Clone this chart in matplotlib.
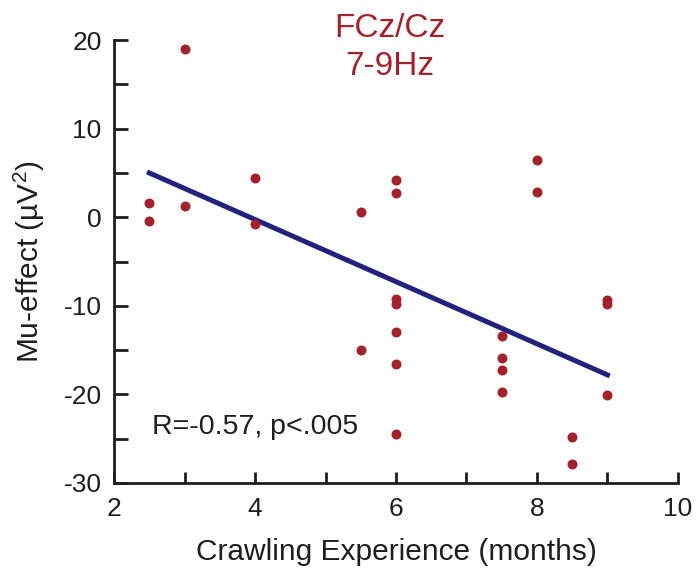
import matplotlib
matplotlib.use("Agg")
import matplotlib.pyplot as plt
from matplotlib.ticker import MultipleLocator

# crawling experience (months) and mu-effect (uV^2)
months = [2.5, 2.5, 3, 3, 4, 4, 5.5, 5.5,
          6, 6, 6, 6, 6, 6, 6,
          7.5, 7.5, 7.5, 7.5, 8, 8, 8.5, 8.5, 9, 9, 9]
mu_effect = [1.6, -0.4, 19.0, 1.3, 4.4, -0.8, 0.6, -15.0,
             4.2, 2.7, -9.2, -9.8, -12.9, -16.6, -24.5,
             -13.4, -15.9, -17.3, -19.7, 6.5, 2.8, -24.8, -27.8, -9.3, -9.8, -20.1]

# regression line end points
fit_x = [2.5, 9.0]
fit_y = [5.0, -17.8]

x_ticks = [2, 4, 6, 8, 10]
y_ticks = [-30, -20, -10, 0, 10, 20]

red = "#a3212a"
navy = "#22227e"
ink = "#1e1e1e"

plt.rcParams["font.family"] = ["Liberation Sans", "DejaVu Sans"]
plt.rcParams["mathtext.fontset"] = "custom"
plt.rcParams["mathtext.rm"] = "Liberation Sans"
plt.rcParams["mathtext.it"] = "Liberation Sans:italic"
plt.rcParams["axes.unicode_minus"] = False


def main():
    fig = plt.figure(figsize=(6.97, 5.75), dpi=100)
    ax = fig.add_axes([0.1636, 0.16, 0.8091, 0.7704])

    ax.plot(fit_x, fit_y, color=navy, lw=3.6, zorder=2)
    ax.plot(months, mu_effect, "o", color=red, ms=7.2, mec="none", zorder=3)

    ax.set_xlim(2, 10)
    ax.set_ylim(-30, 20)
    ax.set_xticks(x_ticks)
    ax.set_yticks(y_ticks)
    ax.xaxis.set_minor_locator(MultipleLocator(1))
    ax.yaxis.set_minor_locator(MultipleLocator(5))
    ax.tick_params(which="both", direction="in", width=2,
                   labelsize=19, colors=ink)
    ax.tick_params(axis="x", which="both", length=8, pad=10)
    ax.tick_params(axis="y", which="both", length=10, pad=9)

    for side in ["top", "right"]:
        ax.spines[side].set_visible(False)
    for side in ["left", "bottom"]:
        ax.spines[side].set_linewidth(2)
        ax.spines[side].set_color(ink)

    ax.set_xlabel("Crawling Experience (months)", fontsize=21.5, labelpad=12,
                  color=ink)
    ax.set_ylabel("Mu-effect (µV$^2$)", fontsize=21.5, labelpad=12,
                  color=ink)

    ax.text(2.54, -24.5, "R=-0.57, p<.005", fontsize=20.5, va="baseline",
            ha="left", color=ink)
    ax.text(5.91, 20.34, "FCz/Cz", fontsize=24, color=red,
            ha="center", va="baseline", clip_on=False)
    ax.text(5.91, 16.04, "7-9Hz", fontsize=24, color=red,
            ha="center", va="baseline", clip_on=False)

    fig.savefig("out.png", dpi=100)


if __name__ == "__main__":
    main()
